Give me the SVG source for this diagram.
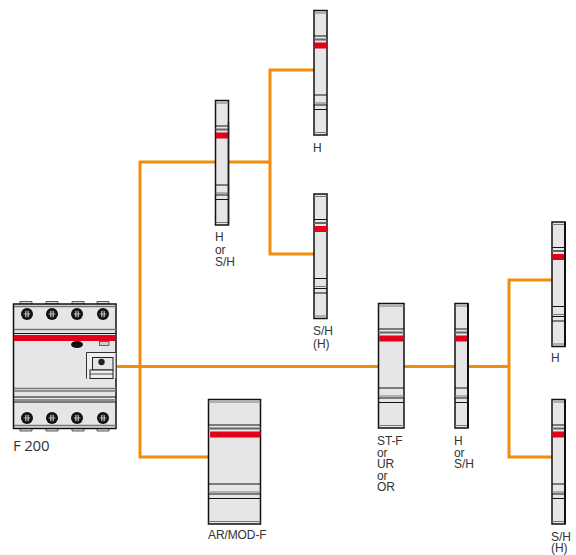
<svg xmlns="http://www.w3.org/2000/svg" width="576" height="555" viewBox="0 0 576 555">
<style>
text{font-family:"Liberation Sans",Arial,sans-serif;font-size:12px;letter-spacing:-.1px;fill:#333}
.big{font-family:"Open Sans","Liberation Sans",sans-serif;font-size:15px;letter-spacing:-.2px}
.wire{fill:none;stroke:#f28c0a;stroke-width:3}
.body{fill:#e6e6e6;stroke:#111;stroke-width:1.5;vector-effect:non-scaling-stroke}
.k{stroke:#111;stroke-width:1;fill:none;vector-effect:non-scaling-stroke}
.g{stroke:#777;stroke-width:1;fill:none;vector-effect:non-scaling-stroke}
.gg{stroke:#666;stroke-width:2;fill:none;vector-effect:non-scaling-stroke}
.red{fill:#e2001a}
.d{stroke:#111;stroke-width:1;fill:none}
.dg{stroke:#777;stroke-width:1.3;fill:none}
.tab{fill:#ddd;stroke:#333;stroke-width:.8}
.sc{fill:#111}
.sl{stroke:#ccc;stroke-width:.8}
</style>
<defs>
<g id="mod">
<rect class="body" x="0" y="0" width="13" height="124.500"/>
<path class="g" d="M0 2.500H13M0 92.500H13M0 122H13"/>
<path class="gg" d="M0 29H13"/>
<path class="k" d="M0 25.500H13M0 84.500H13M0 94.500H13M0 99H13"/>
<rect class="red" x=".4" y="32" width="12.600" height="6"/>
</g>
<g id="screw">
<circle class="sc" r="6"/>
<path class="sl" d="M-3.500 0H3.500M0-3.500V3.500M-1.500-3V3M1.500-3V3"/>
</g>
</defs>
<g id="connectors">
<path class="wire" d="M117 366.500H378M404 366.500H455M468 366.500H509"/>
<path class="wire" d="M215 162H140V457H208"/>
<path class="wire" d="M228 162H270M314 70H270V254H314"/>
<path class="wire" d="M552 280H509V457H552"/>
</g>
<g id="device-f200">
<path class="tab" d="M20 304V301.500H32V304ZM46 304V301.500H58V304ZM72 304V301.500H84V304ZM97 304V301.500H109V304ZM20 428.500V431H32V428.500ZM46 428.500V431H58V428.500ZM72 428.500V431H84V428.500ZM97 428.500V431H109V428.500Z"/>
<rect x="13.500" y="304" width="102.500" height="124.500" fill="#e6e6e6" stroke="#111" stroke-width="1.500"/>
<path class="dg" d="M14 306.500H116M14 329.500H116M14 388.500H116M14 391H116M14 400H116M14 425.500H116"/>
<path class="d" d="M14 333.500H116M14 397H116M14 402H116"/>
<rect class="red" x="14" y="335" width="101.500" height="6"/>
<use href="#screw" x="27" y="314"/><use href="#screw" x="52" y="314"/><use href="#screw" x="77" y="314"/><use href="#screw" x="103" y="314"/>
<use href="#screw" x="27" y="418"/><use href="#screw" x="52" y="418"/><use href="#screw" x="77" y="418"/><use href="#screw" x="103" y="418"/>
<ellipse cx="77" cy="344.500" rx="6" ry="3.500" fill="#111"/>
<rect x="99.500" y="341.500" width="9.500" height="4" fill="#ccc" stroke="#444" stroke-width=".8"/>
<path d="M86.500 378.500V352.500H116" fill="#efefef" stroke="#333"/>
<rect x="87" y="353" width="28.500" height="25" fill="#efefef"/>
<rect x="92.500" y="357.500" width="20.500" height="12.500" fill="#e6e6e6" stroke="#222" stroke-width="1"/>
<rect x="90" y="370" width="23" height="8.500" fill="#efefef" stroke="#222" stroke-width="1"/>
<path d="M90 374H113" stroke="#222" stroke-width=".8"/>
<circle cx="101.500" cy="362" r="3.200" fill="#222"/>
<text class="big" x="13" y="451">F 200</text>
</g>
<g id="mod-h-sh"><use href="#mod" transform="translate(215.500 100.500)"/><path d="M228.500 122V225" stroke="#222" stroke-width="1.500"/><text x="215" y="241">H</text><text x="215" y="254">or</text><text x="215" y="266">S/H</text></g>
<g id="mod-h-top"><use href="#mod" transform="translate(314 10.500)"/><text x="313" y="152">H</text></g>
<g id="mod-sh-top"><use href="#mod" transform="translate(314 194)"/><text x="313" y="335">S/H</text><text x="313" y="348">(H)</text></g>
<g id="mod-st-f"><use href="#mod" transform="translate(378.500 303.500) scale(1.962 1)"/><text x="377" y="445">ST-F</text><text x="377" y="457">or</text><text x="377" y="468">UR</text><text x="377" y="480">or</text><text x="377" y="491">OR</text></g>
<g id="mod-h-sh2"><use href="#mod" transform="translate(455 303.500)"/><path d="M468 303.500V428" stroke="#111" stroke-width="2"/><text x="454" y="445">H</text><text x="454" y="457">or</text><text x="454" y="468">S/H</text></g>
<g id="mod-h-right"><use href="#mod" transform="translate(552 222)"/><path d="M565 222V346.500" stroke="#111" stroke-width="2"/><text x="551" y="362">H</text></g>
<g id="mod-sh-right"><use href="#mod" transform="translate(552 399.500)"/><path d="M565 399.500V524" stroke="#111" stroke-width="2"/><text x="551" y="541">S/H</text><text x="551" y="552">(H)</text></g>
<g id="mod-ar"><use href="#mod" transform="translate(208.500 399.500) scale(4 1)"/><text x="208" y="539">AR/MOD-F</text></g>
</svg>
